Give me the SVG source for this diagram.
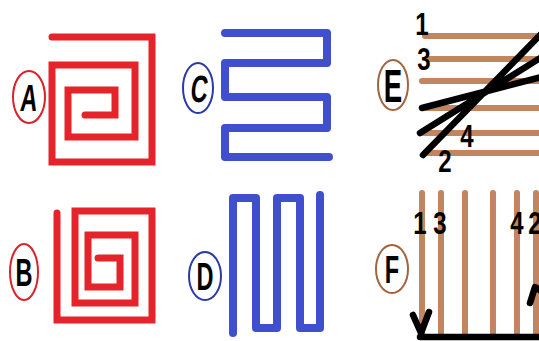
<svg xmlns="http://www.w3.org/2000/svg" width="539" height="341" viewBox="0 0 539 341">
<style>
.red{fill:none;stroke:#e5232b;stroke-width:7;stroke-linecap:round;stroke-linejoin:miter}
.blue{fill:none;stroke:#3f4fcd;stroke-width:8;stroke-linecap:round;stroke-linejoin:round}
.brown{fill:none;stroke:#c1855f;stroke-width:6;stroke-linecap:round}
.blk{fill:none;stroke:#000;stroke-width:6.5;stroke-linecap:round;stroke-linejoin:round}
.ring{fill:#fff;stroke-width:2}
.lt{font-family:"Liberation Sans",Arial,sans-serif;font-weight:bold;font-size:38px;text-anchor:middle;fill:#000}
.num{font-family:"Liberation Sans",Arial,sans-serif;font-weight:bold;font-size:32px;text-anchor:middle;fill:#000}
</style>
<rect width="539" height="341" fill="#fff"/>
<g id="A">
<path class="red" d="M52,37 H152 V162 H52 V65 H135 V137 H68 V90 H115 V115 H85"/>
<ellipse class="ring" cx="29" cy="97" rx="16" ry="26" stroke="#d9232a"/>
<text class="lt" transform="translate(28,111) scale(0.62,1) skewX(-8)">A</text>
</g>
<g id="B">
<path class="red" d="M57,213 V320 H152 V211 H75 V303 H135 V235 H88 V287 H120 V258 H98"/>
<ellipse class="ring" cx="24" cy="272" rx="14" ry="28" stroke="#d9232a"/>
<text class="lt" transform="translate(24,286) scale(0.62,1)">B</text>
</g>
<g id="C">
<path class="blue" d="M225,33 H327 V63 H225 V97 H327 V128 H225 V157 H329"/>
<ellipse class="ring" cx="198" cy="88" rx="15" ry="25" stroke="#2c3aa6"/>
<text class="lt" transform="translate(198,102) scale(0.62,1) skewX(-10)">C</text>
</g>
<g id="D">
<path class="blue" d="M233,333 V198 H256 V328 H277 V198 H300 V328 H320 V195"/>
<ellipse class="ring" cx="205" cy="276" rx="16" ry="24" stroke="#2c3aa6"/>
<text class="lt" transform="translate(205,290) scale(0.62,1)">D</text>
</g>
<g id="E">
<ellipse class="ring" cx="393" cy="85" rx="15" ry="25" stroke="#a0643e"/>
<text class="lt" transform="translate(393,102) scale(0.6,1)" style="font-size:46px">E</text>
<path class="brown" d="M425,36 H545 M428,59 H545 M422,81 H545 M422,108 H545 M423,133 H545 M428,153 H545"/>
<path class="blk" d="M422,108 L545,76 M420,133 L545,55 M423,155 L545,30"/>
<text class="num" transform="translate(422,35) scale(0.75,1)">1</text>
<text class="num" transform="translate(424,70) scale(0.75,1)">3</text>
<text class="num" transform="translate(467,147) scale(0.75,1)">4</text>
<text class="num" transform="translate(445,172) scale(0.75,1)">2</text>
</g>
<g id="F">
<ellipse class="ring" cx="392" cy="269" rx="16" ry="24" stroke="#a0643e"/>
<text class="lt" transform="translate(392,283) scale(0.62,1)">F</text>
<path class="brown" d="M422,193 V333 M441,193 V333 M465,193 V333 M493,193 V333 M517,193 V333 M536,193 V333"/>
<path class="blk" d="M420,337 H545 M413,315 L421,333 L429,312 M530,303 L535,287 L541,291"/>
<text class="num" transform="translate(420,234) scale(0.75,1)">1</text>
<text class="num" transform="translate(440,234) scale(0.75,1)">3</text>
<text class="num" transform="translate(517,234) scale(0.75,1)">4</text>
<text class="num" transform="translate(535,234) scale(0.75,1)">2</text>
</g>
</svg>
